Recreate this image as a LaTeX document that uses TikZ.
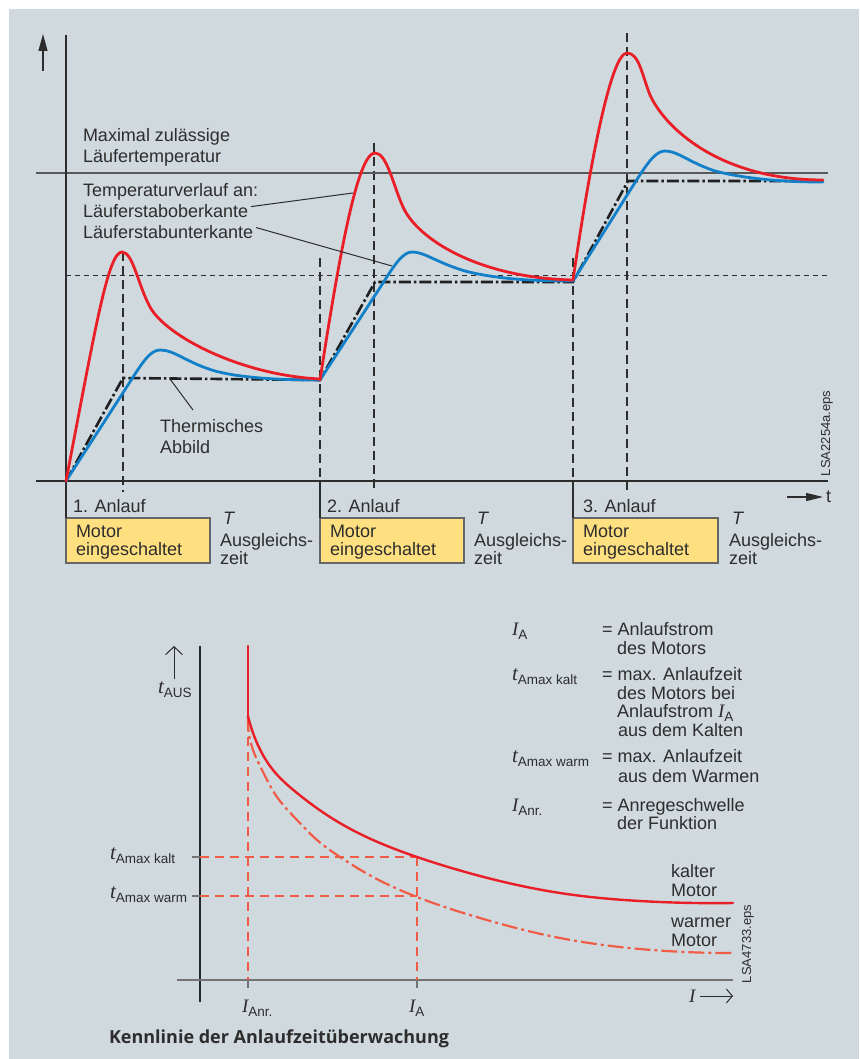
\documentclass[tikz,border=0pt]{standalone}
\usepackage{fontspec}
\setmainfont{Liberation Sans}
\newfontfamily\varfont{Liberation Serif}
\newfontfamily\headfont{Open Sans}
\usetikzlibrary{arrows.meta,hobby}

\definecolor{panel}{RGB}{207,217,222}
\definecolor{ink}{RGB}{45,45,45}
\definecolor{hotred}{RGB}{234,30,38}
\definecolor{coolblue}{RGB}{18,128,200}
\definecolor{boxyellow}{RGB}{255,224,128}
\definecolor{warmred}{RGB}{241,92,70}

\newcommand{\bodyfont}{\fontsize{18}{21}\selectfont}
\newcommand{\smallfont}{\fontsize{13}{14}\selectfont}
\newcommand{\vI}{{\varfont\itshape\fontsize{19}{21}\selectfont I}}
\newcommand{\vt}{{\varfont\itshape\fontsize{21}{21}\selectfont t}}
\newcommand{\vT}{{\itshape T}}
\newcommand{\lowsub}[1]{\raisebox{-4pt}{\fontsize{13.5}{14}\selectfont #1}}

\begin{document}
\begin{tikzpicture}[x=1pt,y=-1pt,
  every node/.style={inner sep=0pt,outer sep=0pt,text=ink,font=\bodyfont},
  lab/.style={anchor=base west},
  axisline/.style={draw=ink,line width=1.2pt},
  guide/.style={draw=ink,line width=1.1pt,dash pattern=on 9pt off 5pt},
  level/.style={draw=ink,line width=1pt,dash pattern=on 5pt off 4pt},
  rotortop/.style={draw=hotred,line width=2.8pt,line join=round,line cap=round},
  rotorbot/.style={draw=coolblue,line width=2.8pt,line join=round,line cap=round},
  thermal/.style={draw=black!88,line width=2.6pt,dash pattern=on 12pt off 3pt on 2.5pt off 3pt},
  ybox/.style={draw=black!60,fill=boxyellow,line width=1.2pt,minimum height=45pt},
  leader/.style={draw=ink,line width=1pt},
  cold/.style={draw=hotred,line width=2.4pt,line cap=round},
  warm/.style={draw=warmred,line width=2.2pt,dash pattern=on 16pt off 4pt on 3pt off 4pt},
  aux/.style={draw=warmred,line width=1.4pt,dash pattern=on 9pt off 6pt},
  tick/.style={draw=black!55,line width=1.4pt},
]
% page and panel
\fill[white] (0,0) rectangle (859,1059);
\fill[panel] (9,9) rectangle (859,1059);

% ===================== upper chart =====================
\node[ybox,minimum width=144pt] (box1) at (138,540.5) {};
\node[ybox,minimum width=144pt] (box2) at (392,540.5) {};
\node[ybox,minimum width=145pt] (box3) at (645.5,540.5) {};

% start and end markers of each run-up
\draw[guide] (123,252) -- (123,492);
\draw[guide] (320,258) -- (320,481);
\draw[guide] (374,143) -- (374,492);
\draw[guide] (573,258) -- (573,481);
\draw[guide] (627,33) -- (627,492);
\draw[level] (66,275) -- (828,275);

% permissible rotor temperature
\coordinate (maxL) at (36,173);
\coordinate (maxR) at (828,173);
\draw[draw=black!65,line width=1.3pt] (maxL) -- (maxR);

% axes
\coordinate (xL) at (36,481);
\coordinate (xR) at (828,481);
\coordinate (yT) at (66,35);
\draw[axisline] (xL) -- (xR);
\draw[axisline] (yT) -- (box1.north west);
\draw[axisline] (320,481) -- (box2.north west);
\draw[axisline] (573,481) -- (box3.north west);

\coordinate (upA) at (43,71);
\coordinate (upB) at (43,34);
\draw[axisline,-{Triangle[length=17pt,width=9pt]}] (upA) -- (upB);
\coordinate (tA) at (787,497);
\coordinate (tB) at (823,497);
\draw[axisline,-{Triangle[length=17pt,width=8pt]}] (tA) -- (tB);
\node[lab] (tlab) at (826,502) {t};

% thermal image
\draw[thermal] (66,481) -- (123,378) -- (320,380) -- (375,282) -- (573,282) -- (628,181) -- (825,181);

% lower edge of rotor bar
\draw[rotorbot] (66,481) -- (128,385) .. controls (142,363) and (150,350) .. (160,350)
  .. controls (175,350) and (185,362) .. (215,371) .. controls (245,379) and (290,380) .. (320,380);
\draw[rotorbot] (320,380) -- (383,283) .. controls (395,264) and (403,252) .. (412,252)
  .. controls (425,252) and (435,262) .. (465,271) .. controls (500,280) and (540,281) .. (573,281);
\draw[rotorbot] (573,281) -- (636,181) .. controls (648,162) and (656,151) .. (665,151)
  .. controls (678,151) and (688,162) .. (715,171) .. controls (750,180) and (790,182) .. (823,182);

% upper edge of rotor bar
\draw[rotortop] (66,481) .. controls (95,330) and (108,252) .. (122,252)
  .. controls (133,252) and (138,285) .. (150,307)
  .. controls (166,336) and (240,375) .. (320,379);
\draw[rotortop] (320,380) .. controls (340,250) and (358,153) .. (375,153)
  .. controls (387,153) and (393,185) .. (403,207)
  .. controls (418,240) and (480,278) .. (573,280);
\draw[rotortop] (573,280) .. controls (592,150) and (612,53) .. (627,53)
  .. controls (639,53) and (642,75) .. (650,95)
  .. controls (665,128) and (720,180) .. (823,180);

% labels
\node[lab] (maxa) at (83,142) {Maximal zulässige};
\node[lab] (maxb) at (83,163) {Läufertemperatur};
\node[lab] (tv) at (83,197) {Temperaturverlauf an:};
\node[lab] (ober) at (83,218) {Läuferstaboberkante};
\node[lab] (unter) at (83,239) {Läuferstabunterkante};
\coordinate (onRed) at (353,193);
\coordinate (onBlue) at (392,266);
\draw[leader] ([xshift=3pt,yshift=5pt]ober.east) -- (onRed);
\draw[leader] ([xshift=3pt,yshift=5pt]unter.east) -- (onBlue);

\node[lab] (thA) at (160,432) {Thermisches};
\node[lab] (thB) at (160,453) {Abbild};
\coordinate (onThermal) at (170,379);
\coordinate (thTip) at (193,410);
\draw[leader] (thTip) -- (onThermal);

\node[lab] (run1) at (73,512) {1. Anlauf};
\node[lab] (run2) at (327,512) {2. Anlauf};
\node[lab] (run3) at (583,512) {3. Anlauf};

\begin{scope}[every node/.style={inner sep=0pt,outer sep=0pt,text=ink,font=\fontsize{18}{18}\selectfont}]
\node[lab] (m1a) at (76,537) {Motor};
\node[lab] (m1b) at (76,555) {eingeschaltet};
\node[lab] (m2a) at (330,537) {Motor};
\node[lab] (m2b) at (330,555) {eingeschaltet};
\node[lab] (m3a) at (583,537) {Motor};
\node[lab] (m3b) at (583,555) {eingeschaltet};

\node[lab] (T1) at (223,524) {\vT};
\node[lab] (a1) at (220,546) {Ausgleichs-};
\node[lab] (z1) at (220,564) {zeit};
\node[lab] (T2) at (477,524) {\vT};
\node[lab] (a2) at (474,546) {Ausgleichs-};
\node[lab] (z2) at (474,564) {zeit};
\node[lab] (T3) at (732,524) {\vT};
\node[lab] (a3) at (729,546) {Ausgleichs-};
\node[lab] (z3) at (729,564) {zeit};
\end{scope}

\node[font=\smallfont,rotate=90,anchor=base west] (file1) at (830,476) {LSA2254a.eps};

% ===================== lower chart =====================
\coordinate (vT) at (200,646);
\coordinate (vB) at (200,1002);
\coordinate (hL) at (177,980);
\coordinate (hR) at (733,980);
\draw[draw=black!85,line width=1.2pt] (vT) -- (vB);
\draw[draw=black!55,line width=1.8pt] (hL) -- (hR);

% reading lines
\coordinate (kaltY) at (417,857);
\coordinate (warmY) at (417,896);
\draw[aux] (248,722) -- (248,980);
\draw[aux] (417,857) -- (417,980);
\draw[aux] (200,857) -- (kaltY);
\draw[aux] (200,896) -- (warmY);
\draw[tick] (192,857) -- (200,857);
\draw[tick] (192,896) -- (200,896);
\draw[tick] (248,980) -- (248,988);
\draw[tick] (417,980) -- (417,988);

% characteristic curves
\draw[warm,use Hobby shortcut] (248,716) .. (253,750) .. (263,772) .. (277,797) .. (297,820) .. (317,840) .. (340,857) .. (373,877) .. (417,897) .. (480,918) .. (560,938) .. (640,949) .. (733,953);
\draw[cold] (248,646) -- (248,716);
\draw[cold,use Hobby shortcut] (248,716) .. (257,743) .. (273,770) .. (297,793) .. (330,817) .. (373,840) .. (417,857) .. (480,876) .. (560,893) .. (640,901) .. (733,903);

% axis arrows and labels
\coordinate (tauA) at (174,679);
\coordinate (tauB) at (174,646);
\draw[draw=ink,line width=1pt,-{Straight Barb[length=8pt,width=17pt]}] (tauA) -- (tauB);
\node[lab] (taus) at (158,693) {\vt\lowsub{AUS}};
\coordinate (iA) at (700,996);
\coordinate (iB) at (733,996);
\draw[draw=ink,line width=1pt,-{Straight Barb[length=6pt,width=14pt]}] (iA) -- (iB);
\node[lab] (ilab) at (689,1002) {\vI};

\node[lab] (tk) at (110,859) {\vt\lowsub{Amax kalt}};
\node[lab] (tw) at (110,898) {\vt\lowsub{Amax warm}};
\node[lab] (ianr) at (242,1012) {\vI\lowsub{Anr.}};
\node[lab] (ia) at (409,1012) {\vI\lowsub{A}};

\node[lab] (kl1) at (671,877) {kalter};
\node[lab] (kl2) at (671,896) {Motor};
\node[lab] (wm1) at (671,927) {warmer};
\node[lab] (wm2) at (671,946) {Motor};

\node[font=\smallfont,rotate=90,anchor=base west] (file2) at (751,983) {LSA4733.eps};

% legend
\node[lab] (s1) at (512,635) {\vI\lowsub{A}};
\node[lab] (d1a) at (602,635) {= Anlaufstrom};
\node[lab] (d1b) at (617,654) {des Motors};
\node[lab] (s2) at (512,680) {\vt\lowsub{Amax kalt}};
\node[lab] (d2a) at (602,680) {= max. Anlaufzeit};
\node[lab] (d2b) at (617,699) {des Motors bei};
\node[lab] (d2c) at (617,717) {Anlaufstrom \vI\lowsub{A}};
\node[lab] (d2d) at (618,736) {aus dem Kalten};
\node[lab] (s3) at (512,762) {\vt\lowsub{Amax warm}};
\node[lab] (d3a) at (602,762) {= max. Anlaufzeit};
\node[lab] (d3b) at (618,782) {aus dem Warmen};
\node[lab] (s4) at (512,811) {\vI\lowsub{Anr.}};
\node[lab] (d4a) at (602,811) {= Anregeschwelle};
\node[lab] (d4b) at (617,829) {der Funktion};

\node[lab,font=\headfont\bfseries\fontsize{18}{20}\selectfont] (title) at (109,1043) {Kennlinie der Anlaufzeitüberwachung};
\end{tikzpicture}
\end{document}
